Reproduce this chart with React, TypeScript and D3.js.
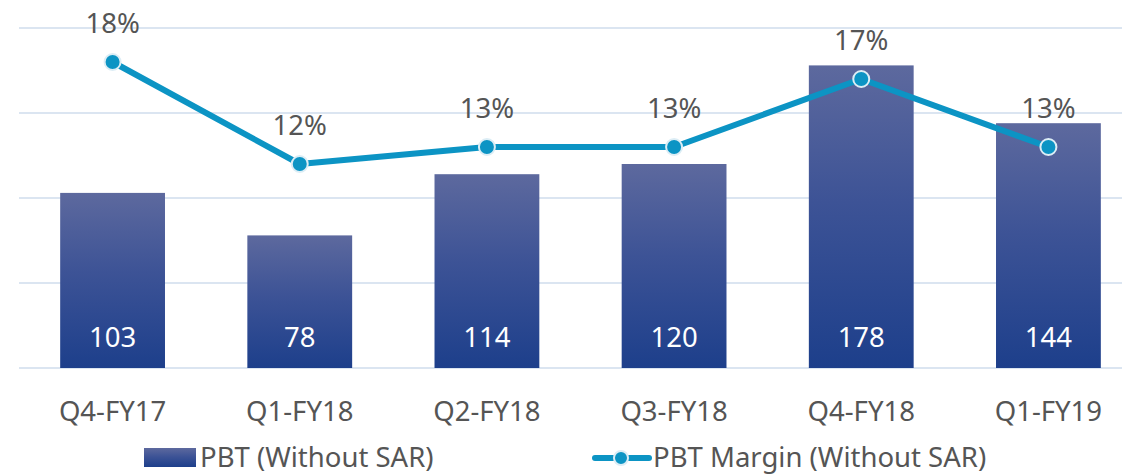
import React from "react";
import * as d3 from "d3";

const categories = ["Q4-FY17", "Q1-FY18", "Q2-FY18", "Q3-FY18", "Q4-FY18", "Q1-FY19"];
const pbtValues = [103, 78, 114, 120, 178, 144];
const marginValues = [18, 12, 13, 13, 17, 13];
const leftTicks = [0, 50, 100, 150, 200];
const seriesNames = ["PBT (Without SAR)", "PBT Margin (Without SAR)"];

const W = 1122;
const H = 475;
const FONT = "'Noto Sans', 'Open Sans', sans-serif";
const TEXT = "#555555";
const LINE = "#0c94c4";

export default function App() {
  const x = d3.scaleBand<string>().domain(categories).range([19, 1142]).paddingInner(0.44).paddingOuter(0.22);
  const y = d3.scaleLinear().domain([0, 200]).range([368, 28]);
  const y2 = d3.scaleLinear().domain([0, 20]).range([368, 28]);
  const cx = (c: string) => (x(c) as number) + x.bandwidth() / 2;
  const line = d3
    .line<number>()
    .x((_, i) => cx(categories[i]))
    .y((d) => y2(d));

  return (
    <svg width={W} height={H} style={{ position: "absolute", left: 0, top: 0, background: "#fff" }} fontFamily={FONT}>
      <defs>
        <linearGradient id="barGrad" x1="0" y1="0" x2="0" y2="1">
          <stop offset="0%" stopColor="#5d699e" />
          <stop offset="45%" stopColor="#3d5396" />
          <stop offset="100%" stopColor="#1d3f8b" />
        </linearGradient>
      </defs>
      {leftTicks.map((t) => (
        <line key={t} x1={19} x2={W} y1={y(t)} y2={y(t)} stroke="#dbe5f1" strokeWidth={2} />
      ))}
      {categories.map((c, i) => (
        <rect key={c} x={x(c)} y={y(pbtValues[i])} width={x.bandwidth()} height={y(0) - y(pbtValues[i])} fill="url(#barGrad)" />
      ))}
      {categories.map((c, i) => (
        <text key={c} x={cx(c)} y={347} fill="#fff" fontSize={27.5} textAnchor="middle">
          {pbtValues[i]}
        </text>
      ))}
      <path d={line(marginValues) || ""} fill="none" stroke={LINE} strokeWidth={6} strokeLinejoin="round" />
      {categories.map((c, i) => (
        <circle key={c} cx={cx(c)} cy={y2(marginValues[i])} r={8} fill={LINE} stroke="#dcedf5" strokeWidth={2} />
      ))}
      {categories.map((c, i) => (
        <text key={c} x={cx(c)} y={y2(marginValues[i]) - 29} fill={TEXT} fontSize={27.5} textAnchor="middle">
          {marginValues[i]}%
        </text>
      ))}
      {categories.map((c) => (
        <text key={c} x={cx(c)} y={421} fill={TEXT} fontSize={27.5} textAnchor="middle">
          {c}
        </text>
      ))}
      <rect x={144} y={448} width={52} height={19} fill="url(#barGrad)" />
      <text x={200} y={467} fill={TEXT} fontSize={27.5}>
        {seriesNames[0]}
      </text>
      <line x1={595} x2={649} y1={458} y2={458} stroke={LINE} strokeWidth={6} strokeLinecap="round" />
      <circle cx={621} cy={458} r={7} fill={LINE} stroke="#dcedf5" strokeWidth={2} />
      <text x={653} y={467} fill={TEXT} fontSize={27.5}>
        {seriesNames[1]}
      </text>
    </svg>
  );
}
